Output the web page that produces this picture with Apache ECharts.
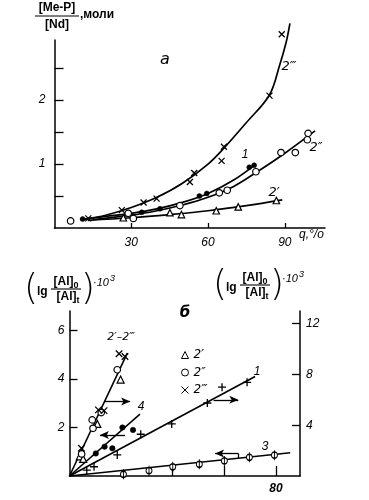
<!DOCTYPE html>
<html><head><meta charset="utf-8">
<script src="https://cdn.jsdelivr.net/npm/echarts@6/dist/echarts.min.js"></script>
<style>html,body{margin:0;padding:0;background:#fff}#c{width:369px;height:500px}</style>
</head><body><div id="c"></div>
<script>
// ---------- Panel а : [Me-P]/[Nd] vs q,% ----------
const aCross = [[13.2,0.15],[26.3,0.28],[34.8,0.40],[39.9,0.46],[52.9,0.72],[54.6,0.86],[65.3,1.05],[66.2,1.27],[84.0,2.07],[88.8,3.03]];
const aDots = [[11.0,0.14],[34.1,0.245],[41.2,0.30],[56.6,0.50],[59.5,0.54],[76.1,0.95],[78.0,0.98]];
const aCircles = [[6.3,0.11],[28.8,0.23],[30.8,0.15],[49.0,0.35],[64.4,0.55],[67.5,0.59],[78.7,0.88],[88.5,1.18],[94.1,1.18],[99.1,1.48],[98.8,1.38]];
const aTriangles = [[26.9,0.16],[45.1,0.24],[49.6,0.21],[63.2,0.27],[71.8,0.33],[86.7,0.43]];
const aCurve2iii = [[12,0.14],[20,0.2],[30,0.32],[40,0.48],[50,0.7],[60,1.0],[66,1.24],[75,1.65],[84,2.08],[88,2.55],[90.5,2.9],[92,3.2]];
const aCurve1 = [[10,0.13],[20,0.18],[30,0.23],[40,0.3],[50,0.4],[60,0.54],[70,0.75],[78.7,1.0]];
const aCurve2ii = [[15,0.13],[30,0.2],[40,0.27],[50,0.36],[60,0.48],[70,0.65],[80,0.9],[90,1.17],[101.8,1.52]];
const aCurve2i = [[13,0.12],[30,0.16],[45,0.21],[60,0.27],[75,0.35],[89,0.44]];
const aXTicks = [30,60,90];
const aYTicks = [0.5,1,1.5,2,2.5];
const aYLabels = [1,2];

// ---------- Panel б ----------
// right axis series
const bTri = [[4.0,1.55],[5.3,1.35],[10.8,4.1],[19.8,7.6]];
const bCirc = [[4.7,1.74],[8.8,4.42],[9.1,3.76],[12.3,5.0],[18.5,8.37]];
const bCross = [[4.6,2.19],[11.2,5.21],[13.4,5.15],[19.2,9.63],[21.5,9.42]];
const bLine2 = [[0,0],[22.4,9.68]];
const bPlus1 = [[6.7,0.47],[9.5,0.73],[18.5,1.66],[27.6,3.29],[39.6,4.1],[53.4,5.75],[59.1,7.0],[68.8,7.38]];
const bLine1 = [[0,0],[71.9,7.84]];
// left axis series
const bDots4 = [[10.2,0.93],[13.6,1.21],[16.6,1.14],[20.5,2.0],[24.6,1.9]];
const bLine4 = [[0,0],[27.3,2.55]];
const bCirc3 = [[20.9,0.07],[30.8,0.22],[40,0.38],[50.3,0.48],[60,0.62],[69.7,0.77],[79.4,0.86]];
const bLine3 = [[0,0],[85.5,0.96]];
const bXTicks = [40,60,80];
const bXLabels = [80];
const bLTicks = [2,4,6];
const bRTicks = [4,8,12];

const FONT = '"Liberation Sans", "DejaVu Sans", sans-serif';
const K = '#000';
const lbl = {color:K, fontStyle:'italic', fontSize:12, fontFamily:FONT};
const CROSS = 'path://M0,0L10,10M0,10L10,0';
const PLUS = 'path://M5,0L5,10M0,5L10,5';
const PHI = 'path://M5,0L5,16M10,8A5,5,0,1,1,0,8A5,5,0,1,1,10,8Z';

function axisBase(extra){
  return Object.assign({
    type:'value',
    splitLine:{show:false},
    axisLine:{show:true, onZero:false, lineStyle:{color:K, width:1.5}},
  }, extra);
}
function curve(data){
  return {type:'line', xAxisIndex:0, yAxisIndex:0, data:data, smooth:0.35, symbol:'none', clip:false,
    lineStyle:{color:K, width:1.7}, z:2, silent:true};
}
function straight(data, yi, extra){
  return Object.assign({type:'line', xAxisIndex:1, yAxisIndex:yi, data:data, symbol:'none', clip:false,
    lineStyle:{color:K, width:1.6}, z:2, silent:true}, extra||{});
}
function arrows(segs){
  return {silent:true, symbol:['none','none'], label:{show:false}, animation:false,
    lineStyle:{color:K, width:1.3, type:'solid'},
    data: segs.map(s => [{coord:s[0], symbol:'none'},{coord:s[1], symbol:s[2]?'arrow':'none', symbolSize:[6,9]}])};
}
function sc(name, data, xi, yi, symbol, size, fill, bw){
  return {type:'scatter', name:name, xAxisIndex:xi, yAxisIndex:yi, data:data, symbol:symbol, symbolSize:size, clip:false,
    itemStyle:{color:fill, borderColor:K, borderWidth:bw, opacity:1}, z:3, silent:true};
}

function txt(x,y,t,font,align,valign){
  return {type:'text', x:x, y:y, silent:true, style:{text:t, font:font, fill:K, align:align||'left', verticalAlign:valign||'middle'}};
}
function rt(x,y,t,rich,align){
  return {type:'text', x:x, y:y, silent:true, style:{text:t, rich:rich, fill:K, align:align||'left', verticalAlign:'middle'}};
}
function ln(x1,y1,x2,y2,w){
  return {type:'line', silent:true, shape:{x1:x1,y1:y1,x2:x2,y2:y2}, style:{stroke:K, lineWidth:w||1}};
}
const F12b = 'bold 12px ' + FONT;
const richAl = {a:{fontSize:12, fontWeight:'bold', fontFamily:FONT, fill:K}, s:{fontSize:9, fontWeight:'bold', fontFamily:FONT, fill:K, padding:[7,0,0,0]}};
const richPow = {a:{fontSize:11, fontStyle:'italic', fontFamily:FONT, fill:K}, p:{fontSize:9, fontStyle:'italic', fontFamily:FONT, fill:K, padding:[0,0,9,1]}};

function axTitle(x0, yMid){
  // (lg [Al]0/[Al]t)·10^3 starting at x0
  return [
    txt(x0, yMid, '(', '300 36px "DejaVu Sans", sans-serif', 'center'),
    txt(x0+6, yMid+2, 'lg', 'bold 12px ' + FONT),
    rt(x0+35, yMid-8, '{a|[Al]}{s|0}', richAl, 'center'),
    ln(x0+20, yMid-1, x0+50, yMid-1, 1.1),
    rt(x0+37, yMid+7, '{a|[Al]}{s|t}', richAl, 'center'),
    txt(x0+57, yMid, ')', '300 36px "DejaVu Sans", sans-serif', 'center'),
    rt(x0+62, yMid-7, '{a|·10}{p|3}', richPow)
  ];
}

const option = {
  animation:false,
  backgroundColor:'#fff',
  textStyle:{fontFamily:FONT},
  grid:[
    {left:54.5, top:40, width:270.5, height:188, outerBoundsMode:'none', containLabel:false},
    {left:69.5, top:311, width:230.5, height:165, outerBoundsMode:'none', containLabel:false}
  ],
  legend:{
    show:true, orient:'vertical', left:174, top:344, itemWidth:7, itemHeight:7, itemGap:5.5,
    selectedMode:false, data:['2′','2″','2‴'],
    itemStyle:{borderWidth:1},
    textStyle:{color:K, fontStyle:'italic', fontSize:12, fontFamily:'"DejaVu Sans", sans-serif'}
  },
  xAxis:[
    axisBase({gridIndex:0, min:0, max:105.7,
      axisTick:{show:true, inside:true, length:5, customValues:aXTicks, lineStyle:{color:K, width:1.3}},
      axisLabel:Object.assign({show:true, margin:9, customValues:aXTicks}, lbl)}),
    axisBase({gridIndex:1, min:0, max:89.3,
      axisTick:{show:true, inside:true, length:10, customValues:bXTicks, lineStyle:{color:K, width:1.3}},
      axisLabel:Object.assign({show:true, margin:7, customValues:bXLabels, fontWeight:'bold'}, lbl)})
  ],
  yAxis:[
    axisBase({gridIndex:0, min:0, max:2.94,
      axisTick:{show:true, inside:true, length:9, customValues:aYTicks, lineStyle:{color:K, width:1.3}},
      axisLabel:Object.assign({show:true, margin:9, customValues:aYLabels}, lbl)}),
    axisBase({gridIndex:1, position:'left', min:0, max:6.8,
      axisTick:{show:true, inside:true, length:8, customValues:bLTicks, lineStyle:{color:K, width:1.3}},
      axisLabel:Object.assign({show:true, margin:5, customValues:bLTicks}, lbl)}),
    axisBase({gridIndex:1, position:'right', min:0, max:13,
      axisTick:{show:true, inside:true, length:8, customValues:bRTicks, lineStyle:{color:K, width:1.3}},
      axisLabel:Object.assign({show:true, margin:6, customValues:bRTicks}, lbl)})
  ],
  series:[
    curve(aCurve2iii), curve(aCurve1), curve(aCurve2ii), curve(aCurve2i),
    sc('a2iii', aCross, 0,0, CROSS, 6, 'none', 1.3),
    sc('a1', aDots, 0,0, 'circle', 5, K, 0.5),
    sc('a2ii', aCircles, 0,0, 'circle', 6.5, '#fff', 1.2),
    sc('a2i', aTriangles, 0,0, 'triangle', 6.5, '#fff', 1.2),

    straight(bLine2, 2, {markLine:arrows([[[13.4,5.86],[23.5,5.86],true]])}),
    straight(bLine1, 2, {markLine:arrows([[[55.8,6.0],[65.4,6.0],true]])}),
    straight(bLine4, 1, {markLine:arrows([[[21.5,1.69],[11.8,1.69],true]])}),
    straight(bLine3, 1, {markLine:arrows([[[65.4,0.73],[65.4,0.93],false],[[65.4,0.93],[56.4,0.93],true]])}),
    sc('2′', bTri, 1,2, 'triangle', 7, '#fff', 1.2),
    sc('2″', bCirc, 1,2, 'circle', 6.5, '#fff', 1.2),
    sc('2‴', bCross, 1,2, CROSS, 6.5, 'none', 1.3),
    sc('b1', bPlus1, 1,2, PLUS, 8, 'none', 1.3),
    sc('b4', bDots4, 1,1, 'circle', 5.5, K, 0.5),
    sc('b3', bCirc3, 1,1, PHI, [6,10], '#fff', 1.2)
  ],
  graphic:[
    // panel а titles
    txt(57, 8, '[Me-P]', F12b, 'center'),
    ln(35, 16, 79, 16, 1.2),
    txt(57, 25, '[Nd]', F12b, 'center'),
    txt(80, 15, ',моли', F12b, 'left'),
    txt(165, 60, 'а', 'italic 16px "DejaVu Sans", sans-serif', 'center'),
    txt(289, 67, '2‴', 'italic 13px "DejaVu Sans", sans-serif', 'center'),
    txt(245, 155, '1', 'italic 12px ' + FONT, 'center'),
    txt(316, 148, '2″', 'italic 13px "DejaVu Sans", sans-serif', 'center'),
    txt(274, 193, '2′', 'italic 13px "DejaVu Sans", sans-serif', 'center'),
    txt(299, 235, 'q,°/o', 'italic 12px ' + FONT, 'left'),
    // panel б
    txt(185, 313, 'б', 'italic bold 15px "DejaVu Sans", sans-serif', 'center'),
    txt(121, 337, '2′–2‴', 'italic 11px "DejaVu Sans", sans-serif', 'center'),
    txt(141, 407, '4', 'italic 12px ' + FONT, 'center'),
    txt(257, 372, '1', 'italic 12px ' + FONT, 'center'),
    txt(265, 447, '3', 'italic 12px ' + FONT, 'center')
  ].concat(axTitle(31, 290)).concat(axTitle(220, 286))
};
const chart = echarts.init(document.getElementById('c'), null, {renderer:'canvas'});
chart.setOption(option);
</script>
</body></html>
